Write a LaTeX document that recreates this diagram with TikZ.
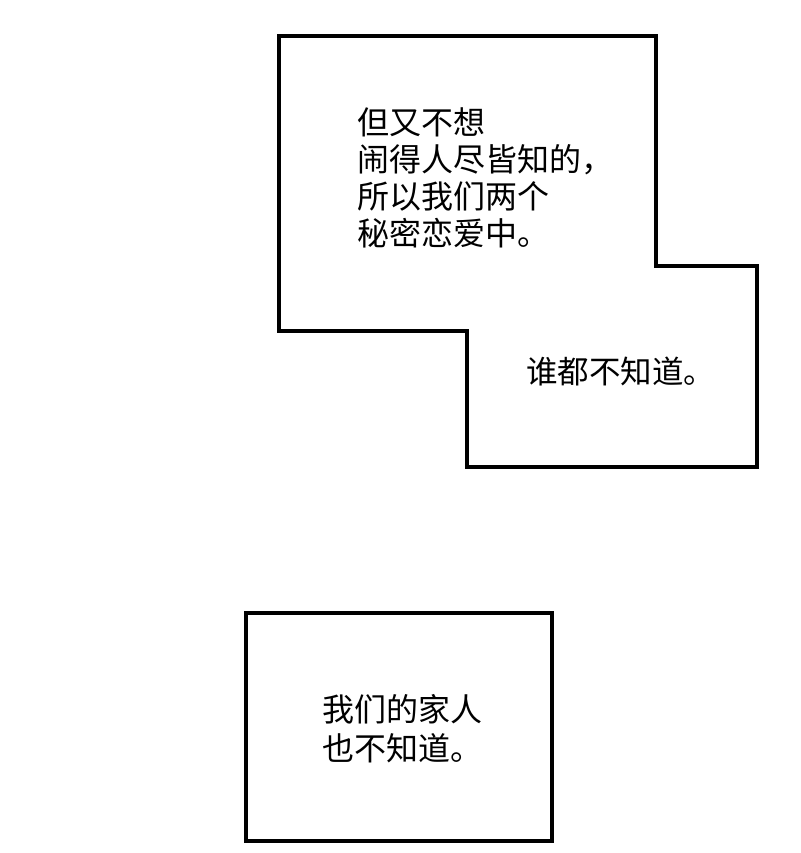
\documentclass[tikz,border=0pt]{standalone}
\usepackage{fontspec}
\usepackage{tikz}
\usetikzlibrary{positioning}
\newfontfamily\cjk{Noto Sans CJK SC}

\begin{document}
\begin{tikzpicture}[x=1pt, y=-1pt, panel/.style={draw=black, line width=3.5pt, line join=miter}, caption/.style={inner sep=0pt, anchor=base west, align=left, font=\cjk\fontsize{32}{36.7}\selectfont}]
	
	\useasboundingbox (0,0) rectangle (800,853);
	
	% Panels
	\draw[panel] (279,36) -- (656,36) -- (656,266) -- (757,266) -- (757,467) -- (467,467) -- (467,331) -- (279,331) -- cycle;
	\draw[panel] (246,613) rectangle (552,841);
	
	% Captions (anchored at the last line)
	\node[caption] (secret) at (357,245) {但又不想\\闹得人尽皆知的，\\所以我们两个\\秘密恋爱中。};
	\node[caption, font=\cjk\fontsize{31.5}{36}\selectfont] (nobody) at (526,383) {谁都不知道。};
	\node[caption, font=\cjk\fontsize{32}{39}\selectfont] (family) at (322,760) {我们的家人\\也不知道。};
	
\end{tikzpicture}
\end{document}
